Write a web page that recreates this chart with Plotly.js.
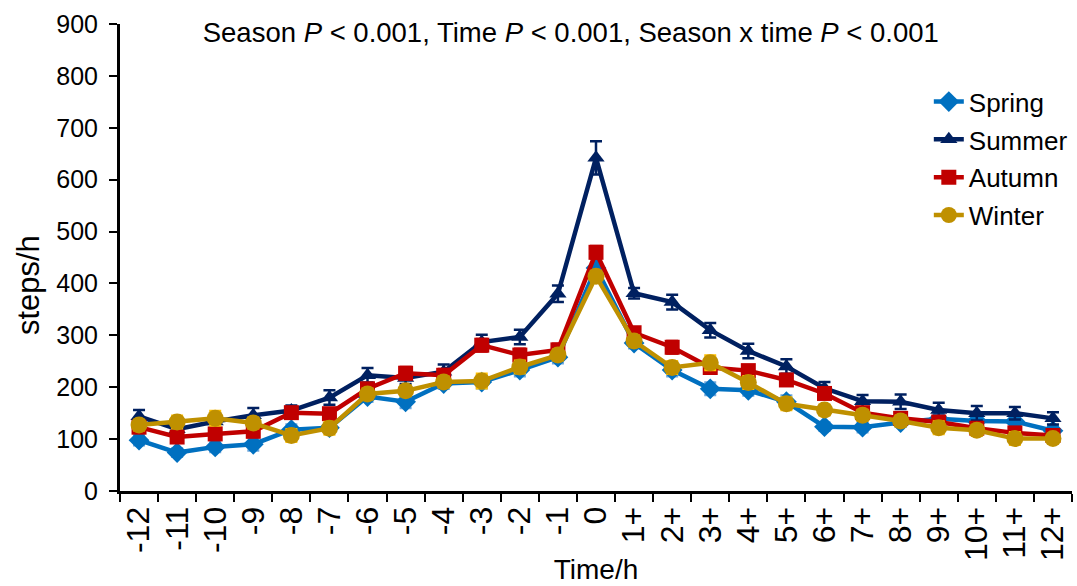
<!DOCTYPE html>
<html>
<head>
<meta charset="utf-8">
<script src="https://cdn.plot.ly/plotly-3.0.1.min.js"></script>
<style>html,body{margin:0;padding:0;background:#fff;}#chart{width:1077px;height:586px;}</style>
</head>
<body>
<div id="chart"></div>
<script>
const timeLabels = ['-12','-11','-10','-9','-8','-7','-6','-5','-4','-3','-2','-1','0','1+','2+','3+','4+','5+','6+','7+','8+','9+','10+','11+','12+'];
const spring = [98, 74, 85, 90, 118, 122, 182, 172, 207, 210, 233, 258, 430, 285, 233, 197, 194, 172, 124, 123, 132, 139, 135, 134, 116];
const summer = [144, 119, 134, 146, 155, 180, 223, 218, 230, 287, 297, 380, 642, 381, 364, 310, 270, 240, 198, 173, 172, 156, 150, 150, 140];
const autumn = [123, 104, 110, 115, 151, 149, 197, 227, 223, 281, 262, 272, 460, 305, 277, 238, 232, 214, 188, 151, 140, 133, 121, 112, 107];
const winter = [127, 133, 140, 131, 107, 121, 187, 193, 210, 212, 239, 262, 414, 289, 238, 247, 209, 168, 156, 146, 135, 122, 117, 101, 101];
const springSE = [10, 8, 10, 12, 10, 8, 10, 12, 10, 12, 12, 12, 20, 10, 12, 12, 10, 12, 8, 10, 8, 10, 10, 10, 8];
const summerSE = [12, 12, 12, 14, 10, 14, 14, 12, 14, 14, 14, 16, 32, 10, 14, 14, 14, 14, 12, 12, 14, 14, 14, 12, 12];
const autumnSE = [10, 8, 10, 10, 10, 10, 10, 12, 12, 12, 12, 12, 12, 10, 12, 12, 10, 10, 10, 10, 10, 10, 10, 10, 8];
const winterSE = [10, 12, 14, 10, 12, 12, 10, 10, 10, 14, 12, 10, 10, 10, 12, 14, 12, 12, 10, 10, 10, 12, 10, 12, 8];

const seriesNames = ['Spring', 'Summer', 'Autumn', 'Winter'];
const seriesVals = [spring, summer, autumn, winter];
const seriesSE = [springSE, summerSE, autumnSE, winterSE];
const lineColors = ['#0070C0', '#002060', '#C00000', '#BF9000'];
const errColors = ['#6FA8DC', '#002060', '#C00000', '#FFC000'];
const symbols = ['diamond', 'triangle-up', 'square', 'circle'];
const sizes = [16, 15, 15, 17];

const traces = seriesNames.map((n, i) => ({
  type: 'scatter',
  mode: 'lines+markers',
  name: n,
  legendgroup: n,
  x: timeLabels,
  y: seriesVals[i],
  line: {color: lineColors[i], width: 4.5},
  marker: {symbol: symbols[i], size: sizes[i], color: lineColors[i]},
  error_y: {type: 'data', array: seriesSE[i], visible: true, color: errColors[i], thickness: 2.5, width: 6}
}));

const layout = {
  width: 1077, height: 586,
  margin: {l: 120, r: 5, t: 24, b: 95, autoexpand: false},
  paper_bgcolor: '#fff', plot_bgcolor: '#fff',
  font: {family: 'Liberation Sans, Arial, sans-serif', color: '#000', size: 25},
  title: {
    text: 'Season <i>P</i> &lt; 0.001, Time <i>P</i> &lt; 0.001, Season x time <i>P</i> &lt; 0.001',
    font: {size: 27.5, color: '#000'},
    x: 0.530, xanchor: 'center', xref: 'container',
    y: 0.944, yanchor: 'middle', yref: 'container'
  },
  xaxis: {
    type: 'category', categoryorder: 'array', categoryarray: timeLabels,
    range: [-0.5, 24.5],
    showline: true, linecolor: '#000', linewidth: 3,
    ticks: 'outside', tickson: 'boundaries', ticklen: 8, tickwidth: 2, tickcolor: '#000',
    tickangle: -90, tickfont: {size: 32},
    showgrid: false, zeroline: false,
    title: {text: 'Time/h', font: {size: 28}, standoff: 0}
  },
  yaxis: {
    range: [0, 900], dtick: 100, tick0: 0,
    showline: true, linecolor: '#000', linewidth: 3,
    ticks: 'outside', ticklen: 8, tickwidth: 2, tickcolor: '#000',
    ticklabelstandoff: 6,
    tickfont: {size: 25},
    showgrid: false, zeroline: false
  },
  annotations: [{
    text: 'steps/h', textangle: -90, showarrow: false,
    xref: 'paper', yref: 'paper', x: -0.0966, y: 0.441,
    xanchor: 'center', yanchor: 'middle',
    font: {size: 31, color: '#000'}
  }],
  legend: {
    x: 0.8496, xanchor: 'left', y: 0.884, yanchor: 'top',
    font: {size: 26}, bgcolor: 'rgba(0,0,0,0)',
    traceorder: 'grouped', tracegroupgap: 1
  },
  showlegend: true
};

Plotly.newPlot('chart', traces, layout, {displayModeBar: false, staticPlot: true});
</script>
</body>
</html>
